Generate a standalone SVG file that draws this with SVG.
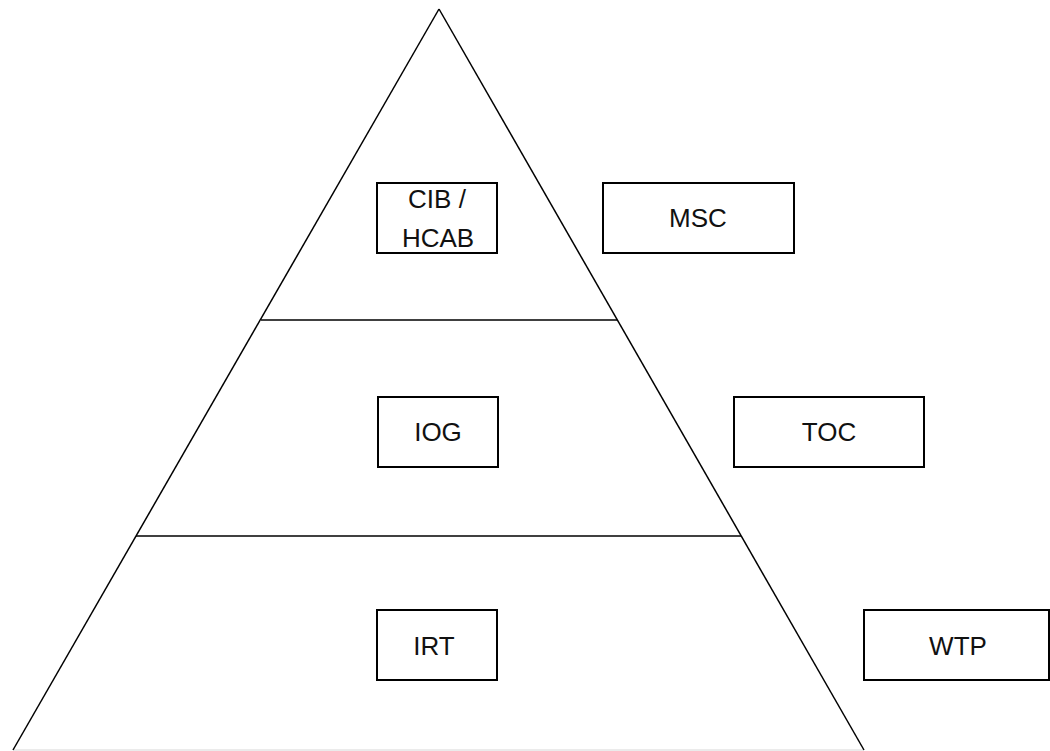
<svg xmlns="http://www.w3.org/2000/svg" width="1050" height="751" viewBox="0 0 1050 751">
<style>
.edge{stroke:#000;stroke-width:1.5;fill:none}
.box{fill:#fff;stroke:#000;stroke-width:2}
.lbl{font-family:"Liberation Sans","Open Sans",sans-serif;font-size:26px;fill:#111;text-anchor:middle}
</style>
<rect width="1050" height="751" fill="#fff"/>
<g id="pyramid">
<line x1="13" y1="750" x2="864" y2="750" stroke="#e4e4e4" stroke-width="1.5"/>
<line class="edge" x1="439" y1="9" x2="13" y2="750"/>
<line class="edge" x1="439" y1="9" x2="864" y2="750"/>
<line class="edge" x1="261" y1="320" x2="617" y2="320"/>
<line class="edge" x1="136" y1="536" x2="741" y2="536"/>
</g>
<g id="connectors"></g>
<g id="cib"><rect class="box" x="377" y="183" width="120" height="70"/><text class="lbl" x="437" y="208">CIB /</text><text class="lbl" x="438" y="247">HCAB</text></g>
<g id="msc"><rect class="box" x="603" y="183" width="191" height="70"/><text class="lbl" x="698" y="227">MSC</text></g>
<g id="iog"><rect class="box" x="378" y="397" width="120" height="70"/><text class="lbl" x="438" y="441">IOG</text></g>
<g id="toc"><rect class="box" x="734" y="397" width="190" height="70"/><text class="lbl" x="829" y="441">TOC</text></g>
<g id="irt"><rect class="box" x="377" y="610" width="120" height="70"/><text class="lbl" x="434" y="655">IRT</text></g>
<g id="wtp"><rect class="box" x="864" y="610" width="185" height="70"/><text class="lbl" x="958" y="655">WTP</text></g>
</svg>
